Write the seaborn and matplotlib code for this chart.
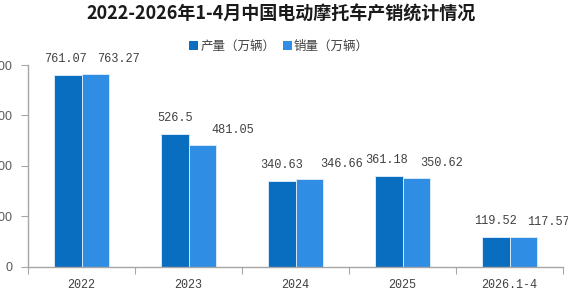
import matplotlib
matplotlib.use("Agg")
import matplotlib.pyplot as plt
import seaborn as sns
import pandas as pd
from matplotlib.patches import Patch, Rectangle

categories = ["2022", "2023", "2024", "2025", "2026.1-4"]
production = [761.07, 526.5, 340.63, 361.18, 119.52]
sales = [763.27, 481.05, 346.66, 350.62, 117.57]
series_names = ["产量（万辆）", "销量（万辆）"]
yticks = [0, 200, 400, 600, 800]
title = "2022-2026年1-4月中国电动摩托车产销统计情况"

# label x offsets (pixels) relative to bar centre, as in the reference
dark_dx = [-2, 0, 0, -2, 0]
light_dx = [23, 30, 32, 25, 25]

colors = ["#0A6EC0", "#2F8EE3"]

df = pd.DataFrame({
    "cat": categories * 2,
    "val": production + sales,
    "series": [series_names[0]] * len(categories) + [series_names[1]] * len(categories),
})

sns.set_theme(style="white")
plt.rcParams["font.family"] = ["Noto Sans CJK SC", "DejaVu Sans"]

dpi = 100
fig = plt.figure(figsize=(5.81, 2.94), dpi=dpi)
ax = fig.add_axes([28 / 581, 1 - 266.7 / 294, (563 - 28) / 581, (266.7 - 65) / 294])

sns.barplot(data=df, x="cat", y="val", hue="series", order=categories,
            hue_order=series_names, palette=colors, saturation=1, width=0.52, gap=0,
            edgecolor="#d6e9f9", linewidth=0.7, ax=ax, legend=False)

ax.set_xlim(-0.5, len(categories) - 0.5)
ax.set_ylim(0, 800)
ax.set_yticks(yticks)
ax.set_yticklabels([str(v) for v in yticks], fontsize=9, color="#595959",
                   family=["Liberation Sans", "DejaVu Sans"])
ax.set_xlabel("")
ax.set_ylabel("")

# x ticks between categories, labels at category centres
ax.set_xticks([i + 0.5 for i in range(-1, len(categories))])
ax.set_xticklabels([])
ax.set_xticks(range(len(categories)), minor=True)
ax.set_xticklabels(categories, minor=True, fontsize=8.5, color="#404040",
                   family=["Liberation Mono", "DejaVu Sans Mono"])
ax.tick_params(axis="x", which="major", length=5, width=0.8, color="#A6A6A6", direction="out", bottom=True)
ax.tick_params(axis="x", which="minor", length=0, pad=9)
ax.tick_params(axis="y", length=5, width=0.8, color="#A6A6A6", direction="out", left=True, pad=6)

for s in ["top", "right"]:
    ax.spines[s].set_visible(False)
for s in ["left", "bottom"]:
    ax.spines[s].set_color("#A6A6A6")
    ax.spines[s].set_linewidth(1.0)

# value labels
pt = 72.0 / dpi
for cont, vals, dxs in zip(ax.containers, [production, sales], [dark_dx, light_dx]):
    for bar, v, dx in zip(cont.patches, vals, dxs):
        xc = bar.get_x() + bar.get_width() / 2
        ax.annotate(f"{v:g}", xy=(xc, bar.get_height()), xytext=(dx * pt, 15.5 * pt),
                    textcoords="offset points", ha="center", va="center",
                    fontsize=8.6, color="#404040",
                    family=["Liberation Mono", "DejaVu Sans Mono"], annotation_clip=False)

fig.text(281 / 581, 1 - 14 / 294, title, ha="center", va="center",
         fontsize=13, fontweight="bold", color="#1a1a1a")

handles = [Patch(facecolor=c, edgecolor="none") for c in colors]
fig.legend(handles, series_names, loc="center", bbox_to_anchor=(279 / 581, 1 - 46 / 294),
           ncol=2, frameon=False, fontsize=9, handlelength=0.7, handleheight=0.7,
           handletextpad=0.2, columnspacing=0.6, labelcolor="#404040")

# right edge of the reference image is cut off
fig.add_artist(Rectangle((568 / 581, 0), 13 / 581, 1, transform=fig.transFigure,
                         facecolor="white", edgecolor="none", zorder=10))

fig.savefig("out.png", dpi=dpi)
